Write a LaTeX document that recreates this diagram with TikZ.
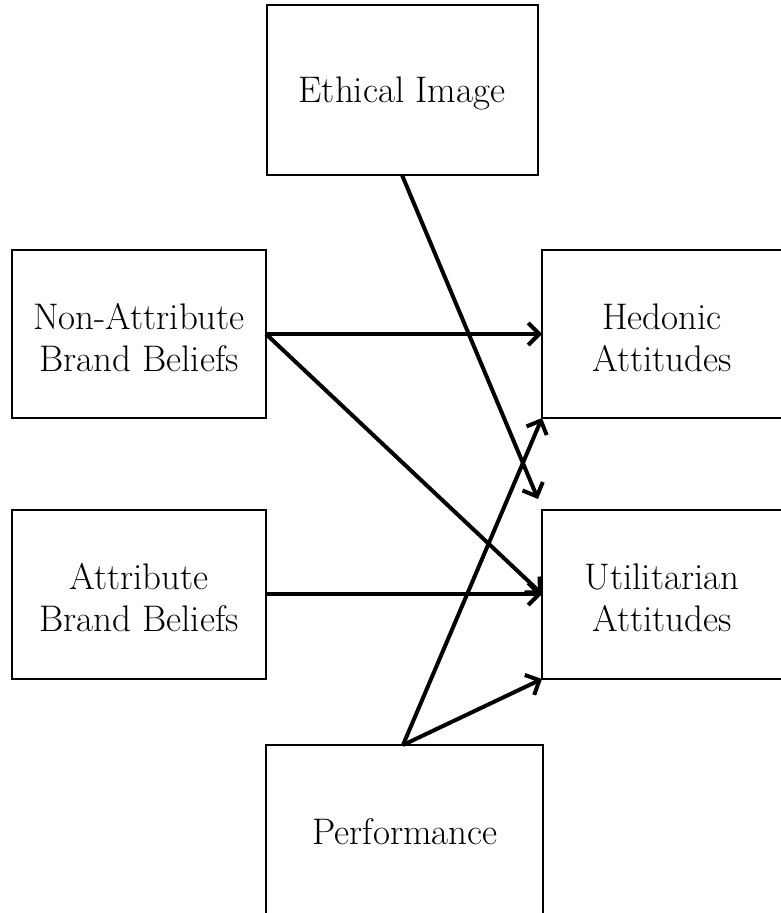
\documentclass[tikz,border=0pt]{standalone}
\usetikzlibrary{arrows.meta}
\begin{document}
\begin{tikzpicture}[x=1pt,y=-1pt,
  box/.style={draw=black,line width=1.8pt,fill=white},
  lbl/.style={font=\fontsize{37}{42}\selectfont,align=center,inner sep=0pt},
  conn/.style={line width=4pt,-{Straight Barb[length=11pt,width=22pt,line width=4pt]}}]
\useasboundingbox (0,0) rectangle (781,913);
\clip (0,0) rectangle (781,913);
% boxes
\draw[box] (267,5) rectangle (538,175);
\draw[box] (12,250) rectangle (266,418);
\draw[box] (542,250) rectangle (800,418);
\draw[box] (12,510) rectangle (266,679);
\draw[box] (542,510) rectangle (800,679);
\draw[box] (266,745) rectangle (543,930);
% labels
\node[lbl] (eth) at (402,93) {Ethical Image};
\node[lbl] (nab) at (139,338) {Non-Attribute\\Brand Beliefs};
\node[lbl] (hed) at (662,338) {Hedonic\\Attitudes};
\node[lbl] (abb) at (139,598) {Attribute\\Brand Beliefs};
\node[lbl] (uti) at (662,598) {Utilitarian\\Attitudes};
\node[lbl] (per) at (405,832) {Performance};
% anchor points
\coordinate (ethA) at (402,175);
\coordinate (nabR) at (266,334);
\coordinate (hedL) at (542,334);
\coordinate (abbR) at (266,594);
\coordinate (utiL) at (542,594);
\coordinate (hedBL) at (542,418);
\coordinate (utiBL) at (542,679);
\coordinate (perT) at (403,745);
\coordinate (ethEnd) at (538,499);
% connectors
\draw[conn] (ethA) -- (ethEnd);
\draw[conn] (nabR) -- (hedL);
\draw[conn] (nabR) -- (utiL);
\draw[conn] (abbR) -- (utiL);
\draw[conn] (perT) -- (hedBL);
\draw[conn] (perT) -- (utiBL);
\end{tikzpicture}
\end{document}
